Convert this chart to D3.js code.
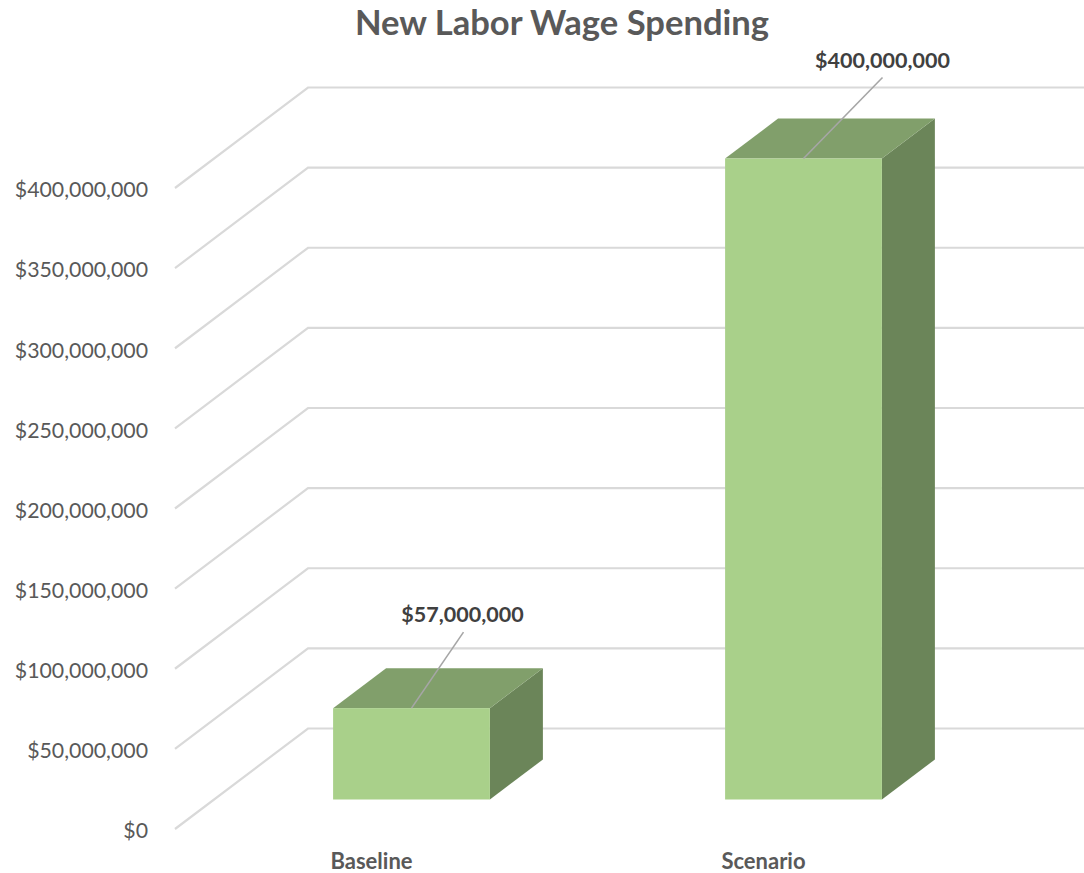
<!DOCTYPE html>
<html>
<head>
<meta charset="utf-8">
<script src="https://cdn.jsdelivr.net/npm/d3@7/dist/d3.min.js"></script>
<style>
html,body{margin:0;padding:0;background:#fff;}
svg{display:block;}
text{font-family:Lato,"Open Sans",sans-serif;}
</style>
</head>
<body>
<svg id="chart" width="1084" height="873"></svg>
<script>
const categories = ["Baseline", "Scenario"];
const wages = [57000000, 400000000];
const tickValues = [0, 50000000, 100000000, 150000000, 200000000, 250000000, 300000000, 350000000, 400000000];
const title = "New Labor Wage Spending";

const svg = d3.select("#chart");
const domainY = [0, 400000000];

// Oblique projection: the same value sits at a different height on each plane.
const yBack = d3.scaleLinear().domain(domainY).range([728.5, 87.5]);
const yAxisPlane = d3.scaleLinear().domain(domainY).range([829, 188]);
const yFront = d3.scaleLinear().domain(domainY).range([799.5, 158.5]);

const x = d3.scaleBand().domain(categories).range([215.5, 999.5]).paddingInner(0.6).paddingOuter(0.3);
const depthX = 53, depthY = -40;
const wallLeft = 308, wallFloorLeft = 175, wallRight = 1084;

svg.append("text")
  .attr("x", 562).attr("y", 35)
  .attr("text-anchor", "middle")
  .attr("font-size", 34.6).attr("font-weight", 700).attr("fill", "#595959")
  .text(title);

// Side wall and back wall gridlines
svg.append("g").selectAll("polyline").data(tickValues).join("polyline")
  .attr("fill", "none").attr("stroke", "#d9d9d9").attr("stroke-width", 2.2)
  .attr("points", d => [[wallFloorLeft, yAxisPlane(d)], [wallLeft, yBack(d)], [wallRight, yBack(d)]].join(" "));

// Value axis
const axis = d3.axisLeft(yAxisPlane)
  .tickValues(tickValues)
  .tickSize(0).tickPadding(0)
  .tickFormat(d => "$" + d3.format(",")(d));
const gAxis = svg.append("g").attr("transform", "translate(148,2)").call(axis);
gAxis.select(".domain").remove();
gAxis.selectAll("text")
  .attr("font-size", 21.3).attr("fill", "#595959")
  .style("font-family", "Lato,'Open Sans',sans-serif");

// Bars: right side, top, then front face
const bars = svg.append("g").selectAll("g").data(categories.map((c, i) => ({c, v: wages[i]}))).join("g");
bars.append("polygon")
  .attr("fill", "#6b8559")
  .attr("points", d => {
    const r = x(d.c) + x.bandwidth();
    return [[r, yFront(d.v)], [r + depthX, yFront(d.v) + depthY], [r + depthX, yFront(0) + depthY], [r, yFront(0)]].join(" ");
  });
bars.append("polygon")
  .attr("fill", "#819f6b")
  .attr("points", d => {
    const l = x(d.c), r = l + x.bandwidth(), t = yFront(d.v);
    return [[l, t], [l + depthX, t + depthY], [r + depthX, t + depthY], [r, t]].join(" ");
  });
bars.append("rect")
  .attr("fill", "#a9d08a")
  .attr("x", d => x(d.c)).attr("y", d => yFront(d.v))
  .attr("width", x.bandwidth())
  .attr("height", d => yFront(0) - yFront(d.v));

// Leader lines running from each bar's top edge to its value label
const leaderRise = [76, 81];
const leaderRun = [52, 79];
bars.append("line")
  .attr("stroke", "#a6a6a6").attr("stroke-width", 1.6)
  .attr("x1", d => x(d.c) + x.bandwidth() / 2)
  .attr("y1", d => yFront(d.v))
  .attr("x2", (d, i) => x(d.c) + x.bandwidth() / 2 + leaderRun[i])
  .attr("y2", (d, i) => yFront(d.v) - leaderRise[i]);

bars.append("text")
  .attr("text-anchor", "middle")
  .attr("font-size", 21.5).attr("font-weight", 700).attr("fill", "#404040")
  .attr("x", (d, i) => x(d.c) + x.bandwidth() / 2 + leaderRun[i] - (i ? 0 : 1))
  .attr("y", (d, i) => yFront(d.v) - leaderRise[i] - 10)
  .text(d => "$" + d3.format(",")(d.v));

// Category labels sit below the floor, left of each bar's centre
svg.append("g").selectAll("text").data(categories).join("text")
  .attr("text-anchor", "middle")
  .attr("font-size", 22).attr("font-weight", 700).attr("fill", "#595959")
  .attr("x", d => x(d) + x.bandwidth() / 2 - 40)
  .attr("y", 869)
  .text(d => d);
</script>
</body>
</html>
